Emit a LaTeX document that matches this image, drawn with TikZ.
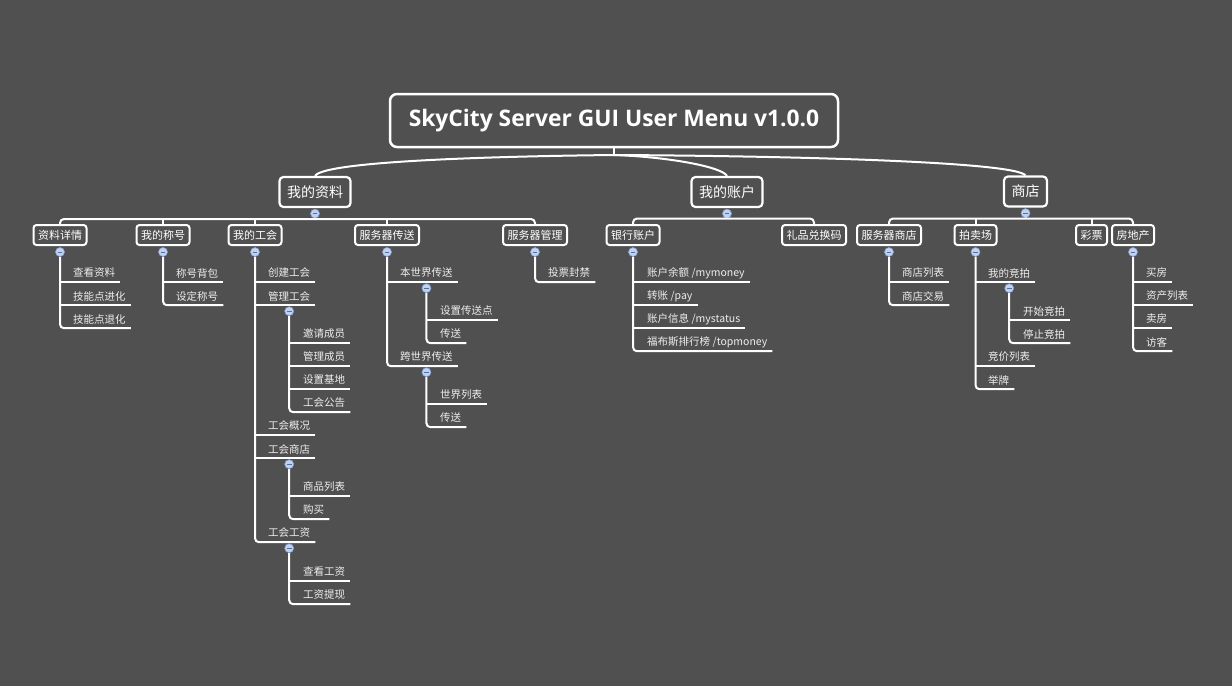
\documentclass[tikz,border=0pt]{standalone}
\usepackage{fontspec}
\setmainfont{Noto Sans CJK SC}
\newfontfamily\titlefont{Open Sans}
\usetikzlibrary{calc}
\definecolor{bg}{RGB}{80,80,80}
\definecolor{markfill}{RGB}{192,210,242}
\definecolor{markedge}{RGB}{132,160,214}
\definecolor{leaftext}{RGB}{238,238,238}
\begin{document}
\begin{tikzpicture}[x=1pt,y=-1pt,
  root/.style={draw=white, line width=2.5pt, rounded corners=7pt, minimum width=448pt, minimum height=53pt, inner sep=0pt, text=white, font=\titlefont\bfseries\fontsize{22.8}{27}\selectfont},
  lone/.style={draw=white, line width=2.2pt, rounded corners=4pt, minimum height=30pt, inner xsep=7.5pt, inner ysep=0pt, text=white, font=\fontsize{14}{16}\selectfont},
  ltwo/.style={draw=white, line width=2pt, rounded corners=3pt, minimum height=20pt, inner xsep=4.5pt, inner ysep=0pt, text=white, font=\fontsize{11}{13}\selectfont},
  leaf/.style={anchor=west, minimum height=18pt, inner xsep=5pt, inner ysep=0pt, text=leaftext, font=\fontsize{10.5}{12}\selectfont},
  conn/.style={draw=white, line width=2pt},
  mk/.style={circle, fill=markfill, draw=markedge, line width=0.6pt, minimum size=9pt, inner sep=0pt,
    path picture={\draw[markedge!70!black, line width=1pt] ([xshift=-2.3pt]path picture bounding box.center) -- ([xshift=2.3pt]path picture bounding box.center);}}
]
\path[use as bounding box, fill=bg] (0,0) rectangle (1232,686);

% root and level 1
\node[root] (root) at (614,120.5) {SkyCity Server GUI User Menu v1.0.0};
\coordinate (hub) at (614,155);
\node[lone] (A) at (315,192) {我的资料};
\node[lone] (B) at (727,192) {我的账户};
\node[lone] (C) at (1025.5,191.5) {商店};
\draw[conn] (root.south) -- (hub);
\draw[conn] (hub) .. controls (520,156) and (325,160) .. (A.north);
\draw[conn] (hub) .. controls (670,157) and (722,167) .. (B.north);
\draw[conn] (hub) .. controls (800,156) and (1015,162) .. (C.north);

\node[mk] (mA) at ([yshift=-5.5pt]A.south) {};
\node[mk] (mB) at ([yshift=-5.5pt]B.south) {};
\node[mk] (mC) at ([yshift=-5.5pt]C.south) {};

% level 2
\node[ltwo] (A1) at (60,235) {资料详情};
\node[ltwo] (A2) at (163,235) {我的称号};
\node[ltwo] (A3) at (255,235) {我的工会};
\node[ltwo] (A4) at (387,235) {服务器传送};
\node[ltwo] (A5) at (535,235) {服务器管理};
\node[ltwo] (B1) at (633,235) {银行账户};
\node[ltwo] (B2) at (814,235) {礼品兑换码};
\node[ltwo] (C1) at (889,235) {服务器商店};
\node[ltwo] (C2) at (975.5,235) {拍卖场};
\node[ltwo] (C3) at (1091.5,235) {彩票};
\node[ltwo] (C4) at (1133,235) {房地产};

\coordinate (barA) at (315,219);
\coordinate (barB) at (727,218.5);
\coordinate (barC) at (1026,218.5);
\draw[conn, rounded corners=4pt] (A1.north) |- (barA) -| (A5.north);
\draw[conn] (mA.south) -- (barA);
\draw[conn] (A2.north) -- (A2.north |- barA);
\draw[conn] (A3.north) -- (A3.north |- barA);
\draw[conn] (A4.north) -- (A4.north |- barA);
\draw[conn, rounded corners=4pt] (B1.north) |- (barB) -| (B2.north);
\draw[conn] (mB.south) -- (barB);
\draw[conn, rounded corners=4pt] (C1.north) |- (barC) -| (C4.north);
\draw[conn] (mC.south) -- (barC);
\draw[conn] (C2.north) -- (C2.north |- barC);
\draw[conn] (C3.north) -- (C3.north |- barC);

% ---------- 资料详情
\node[mk] (mA1) at ([yshift=-6pt]A1.south) {};
\node[leaf] (A11) at (68,273) {查看资料};
\node[leaf] (A12) at (68,296) {技能点进化};
\node[leaf] (A13) at (68,319) {技能点退化};
\draw[conn, rounded corners=4pt] (mA1.south) |- (A13.south east);
\draw[conn] (mA1.south |- A11.south) -- (A11.south east);
\draw[conn] (mA1.south |- A12.south) -- (A12.south east);

% ---------- 我的称号
\node[mk] (mA2) at ([yshift=-6pt]A2.south) {};
\node[leaf] (A21) at (171,273) {称号背包};
\node[leaf] (A22) at (171,296) {设定称号};
\draw[conn, rounded corners=4pt] (mA2.south) |- (A22.south east);
\draw[conn] (mA2.south |- A21.south) -- (A21.south east);

% ---------- 我的工会
\node[mk] (mA3) at ([yshift=-6pt]A3.south) {};
\node[leaf] (A31) at (263,273) {创建工会};
\node[leaf] (A32) at (263,296) {管理工会};
\node[leaf] (A33) at (263,426) {工会概况};
\node[leaf] (A34) at (263,449) {工会商店};
\node[leaf] (A35) at (263,533) {工会工资};
\draw[conn, rounded corners=4pt] (mA3.south) |- (A35.south east);
\draw[conn] (mA3.south |- A31.south) -- (A31.south east);
\draw[conn] (mA3.south |- A32.south) -- (A32.south east);
\draw[conn] (mA3.south |- A33.south) -- (A33.south east);
\draw[conn] (mA3.south |- A34.south) -- (A34.south east);

\node[mk] (mA32) at ([yshift=-6pt]A32.south) {};
\node[leaf] (A321) at (298,334) {邀请成员};
\node[leaf] (A322) at (298,357) {管理成员};
\node[leaf] (A323) at (298,380) {设置基地};
\node[leaf] (A324) at (298,403) {工会公告};
\draw[conn, rounded corners=4pt] (mA32.south) |- (A324.south east);
\draw[conn] (mA32.south |- A321.south) -- (A321.south east);
\draw[conn] (mA32.south |- A322.south) -- (A322.south east);
\draw[conn] (mA32.south |- A323.south) -- (A323.south east);

\node[mk] (mA34) at ([yshift=-6pt]A34.south) {};
\node[leaf] (A341) at (298,487) {商品列表};
\node[leaf] (A342) at (298,510) {购买};
\draw[conn, rounded corners=4pt] (mA34.south) |- (A342.south east);
\draw[conn] (mA34.south |- A341.south) -- (A341.south east);

\node[mk] (mA35) at ([yshift=-6pt]A35.south) {};
\node[leaf] (A351) at (298,572) {查看工资};
\node[leaf] (A352) at (298,595) {工资提现};
\draw[conn, rounded corners=4pt] (mA35.south) |- (A352.south east);
\draw[conn] (mA35.south |- A351.south) -- (A351.south east);

% ---------- 服务器传送
\node[mk] (mA4) at ([yshift=-6pt]A4.south) {};
\node[leaf] (A41) at (395,273) {本世界传送};
\node[leaf] (A42) at (395,357) {跨世界传送};
\draw[conn, rounded corners=4pt] (mA4.south) |- (A42.south east);
\draw[conn] (mA4.south |- A41.south) -- (A41.south east);

\node[mk] (mA41) at ([yshift=-6pt]A41.south) {};
\node[leaf] (A411) at (435,311) {设置传送点};
\node[leaf] (A412) at (435,334) {传送};
\draw[conn, rounded corners=4pt] (mA41.south) |- (A412.south east);
\draw[conn] (mA41.south |- A411.south) -- (A411.south east);

\node[mk] (mA42) at ([yshift=-6pt]A42.south) {};
\node[leaf] (A421) at (435,395) {世界列表};
\node[leaf] (A422) at (435,418) {传送};
\draw[conn, rounded corners=4pt] (mA42.south) |- (A422.south east);
\draw[conn] (mA42.south |- A421.south) -- (A421.south east);

% ---------- 服务器管理
\node[mk] (mA5) at ([yshift=-6pt]A5.south) {};
\node[leaf] (A51) at (543,273) {投票封禁};
\draw[conn, rounded corners=4pt] (mA5.south) |- (A51.south east);

% ---------- 银行账户
\node[mk] (mB1) at ([yshift=-6pt]B1.south) {};
\node[leaf] (B11) at (642,273) {账户余额 /mymoney};
\node[leaf] (B12) at (642,296) {转账 /pay};
\node[leaf] (B13) at (642,319) {账户信息 /mystatus};
\node[leaf] (B14) at (642,342) {福布斯排行榜 /topmoney};
\draw[conn, rounded corners=4pt] (mB1.south) |- (B14.south east);
\draw[conn] (mB1.south |- B11.south) -- (B11.south east);
\draw[conn] (mB1.south |- B12.south) -- (B12.south east);
\draw[conn] (mB1.south |- B13.south) -- (B13.south east);

% ---------- 服务器商店
\node[mk] (mC1) at ([yshift=-6pt]C1.south) {};
\node[leaf] (C11) at (897,273) {商店列表};
\node[leaf] (C12) at (897,296) {商店交易};
\draw[conn, rounded corners=4pt] (mC1.south) |- (C12.south east);
\draw[conn] (mC1.south |- C11.south) -- (C11.south east);

% ---------- 拍卖场
\node[mk] (mC2) at ([yshift=-6pt]C2.south) {};
\node[leaf] (C21) at (983,273) {我的竞拍};
\node[leaf] (C22) at (983,357) {竞价列表};
\node[leaf] (C23) at (983,380) {举牌};
\draw[conn, rounded corners=4pt] (mC2.south) |- (C23.south east);
\draw[conn] (mC2.south |- C21.south) -- (C21.south east);
\draw[conn] (mC2.south |- C22.south) -- (C22.south east);

\node[mk] (mC21) at ([yshift=-6pt]C21.south) {};
\node[leaf] (C211) at (1018,311) {开始竞拍};
\node[leaf] (C212) at (1018,334) {停止竞拍};
\draw[conn, rounded corners=4pt] (mC21.south) |- (C212.south east);
\draw[conn] (mC21.south |- C211.south) -- (C211.south east);

% ---------- 房地产
\node[mk] (mC4) at ([yshift=-6pt]C4.south) {};
\node[leaf] (C41) at (1141,273) {买房};
\node[leaf] (C42) at (1141,296) {资产列表};
\node[leaf] (C43) at (1141,319) {卖房};
\node[leaf] (C44) at (1141,342) {访客};
\draw[conn, rounded corners=4pt] (mC4.south) |- (C44.south east);
\draw[conn] (mC4.south |- C41.south) -- (C41.south east);
\draw[conn] (mC4.south |- C42.south) -- (C42.south east);
\draw[conn] (mC4.south |- C43.south) -- (C43.south east);
\end{tikzpicture}
\end{document}
